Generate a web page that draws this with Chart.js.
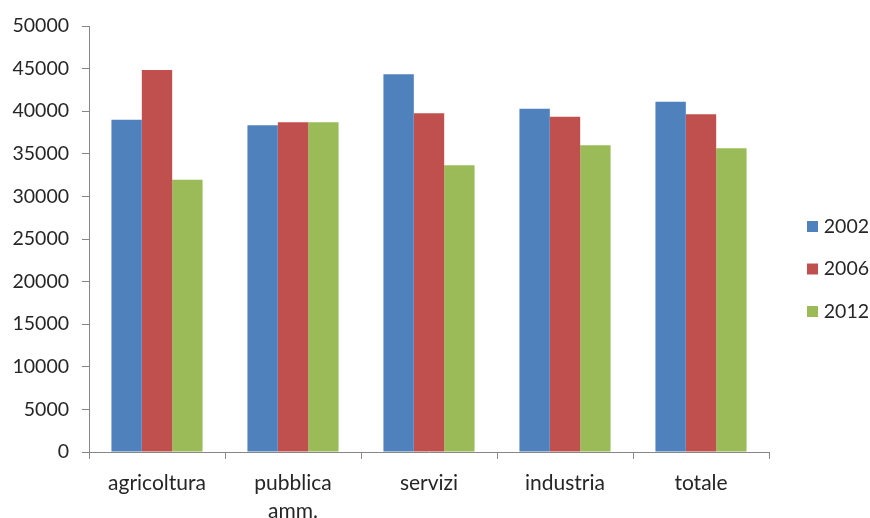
<!DOCTYPE html>
<html>
<head>
<meta charset="utf-8">
<script src="https://cdn.jsdelivr.net/npm/chart.js@4/dist/chart.umd.min.js"></script>
<style>
html,body{margin:0;padding:0;background:#fff}
#wrap{width:870px;height:518px;position:relative}
</style>
</head>
<body>
<div id="wrap"><canvas id="c"></canvas></div>
<script>
// categorie e valori
const CATEGORIES=['agricoltura',['pubblica','amm.'],'servizi','industria','totale'];
const YEARS=['2002','2006','2012'];
const V2002=[39000,38350,44350,40300,41100];
const V2006=[44850,38700,39750,39350,39650];
const V2012=[31950,38700,33650,36000,35650];
const Y_TICKS=[0,5000,10000,15000,20000,25000,30000,35000,40000,45000,50000];

const COLOURS=['#4F81BD','#C0504D','#9BBB59'];
const FONT={family:'Lato',size:21,lineHeight:1.3};
const NUMFONT={family:'Lato',size:19.5};
const AXIS='#868686';
const TEXT='#262626';
const LEG_PAD=23;

let Chart1

// legenda spostata a destra, testo allineato al bordo, come nell'originale
const legendShift={id:'legendShift',afterLayout(chart){const L=chart.legend;if(!L)return;L.left=807-LEG_PAD;L.right=869;L.top-=3;L.bottom-=3}}

function LoadC1(){
Chart1=new Chart(document.getElementById('c'),{
  type:'bar',
  data:{
    labels:CATEGORIES,
    datasets:[V2002,V2006,V2012].map((d,i)=>({label:YEARS[i],data:d,backgroundColor:COLOURS[i],categoryPercentage:0.67,barPercentage:1}))
  },
  plugins:[legendShift],
  options:{
    responsive:true,
    maintainAspectRatio:false,
    animation:false,
    layout:{padding:{top:26,right:2,bottom:0,left:0}},
    plugins:{
      legend:{position:'right',labels:{font:NUMFONT,color:TEXT,boxWidth:11,boxHeight:11,padding:LEG_PAD,textAlign:'right'}},
      tooltip:{enabled:false}
    },
    scales:{
      x:{
        grid:{display:true,drawOnChartArea:false,offset:true,tickLength:7,color:AXIS},
        border:{color:AXIS},
        ticks:{font:FONT,color:TEXT,padding:11,maxRotation:0,autoSkip:false},
        afterFit:s=>{s.height=66}
      },
      y:{
        min:0,max:50000,
        afterBuildTicks:s=>{s.ticks=Y_TICKS.map(v=>({value:v}))},
        grid:{display:true,drawOnChartArea:false,tickLength:7,color:AXIS},
        border:{color:AXIS},
        ticks:{font:NUMFONT,color:TEXT,padding:13,callback:v=>String(v)},
        afterFit:s=>{s.width=89}
      }
    }
  }
});
}
LoadC1()
</script>
</body>
</html>
